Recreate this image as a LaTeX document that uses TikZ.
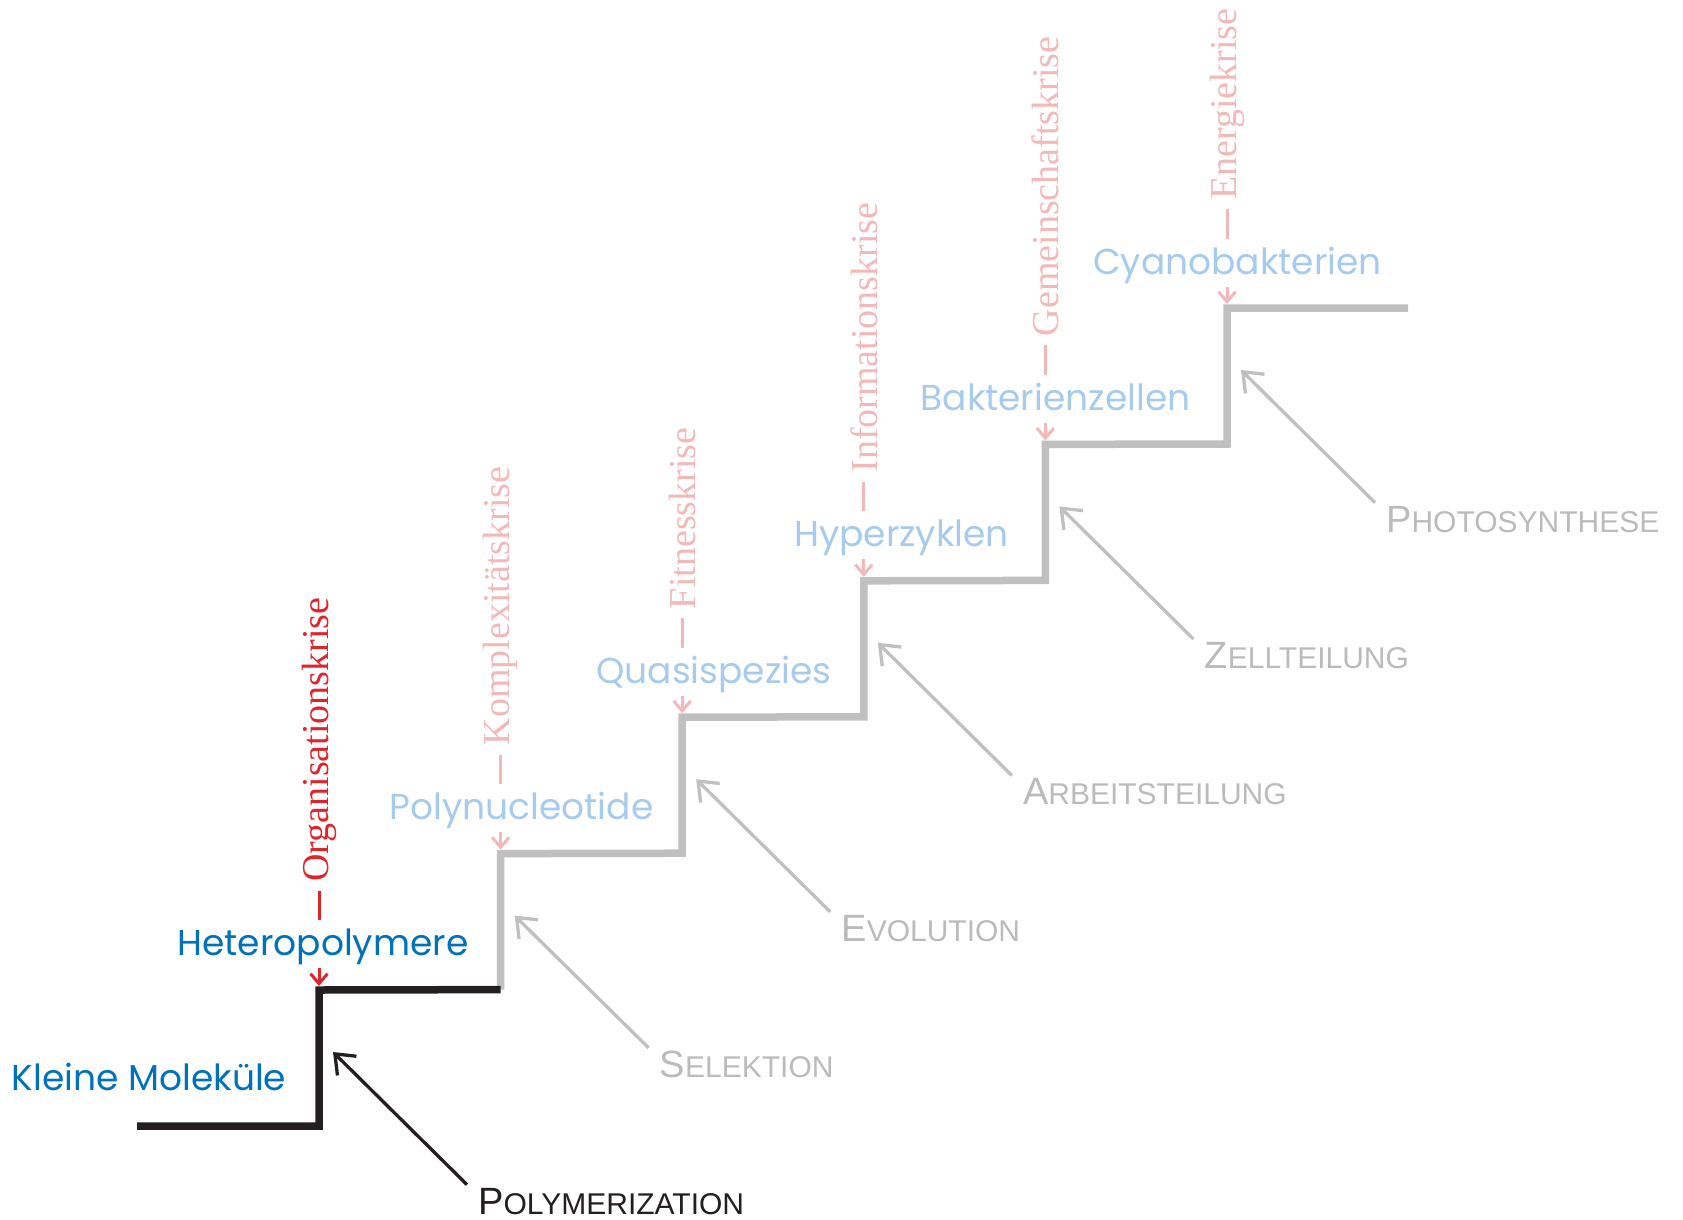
\documentclass[tikz,border=0pt]{standalone}
\usepackage{fontspec}
\setmainfont{Liberation Serif}
\newfontfamily\stufenfont{Poppins}
\newfontfamily\prozessfont{Liberation Sans}
\usepackage{xcolor}
\usetikzlibrary{arrows.meta,positioning,calc}

\definecolor{dunkelblau}{RGB}{0,114,188}
\definecolor{hellblau}{RGB}{166,203,238}
\definecolor{krisenrot}{RGB}{224,36,43}
\definecolor{hellrot}{RGB}{243,184,184}
\definecolor{stufengrau}{RGB}{192,192,192}
\definecolor{textgrau}{RGB}{187,187,187}
\definecolor{dunkelgrau}{RGB}{35,31,32}

\newcommand\kapit[2]{{\fontsize{38}{40}\selectfont #1}{\fontsize{30}{32}\selectfont #2}}

\tikzset{
	stufe/.style={line width=7.5pt, miter limit=4},
	stadium/.style={anchor=base, inner xsep=2pt, inner ysep=3pt, text height=32pt, text depth=10pt, font=\stufenfont\fontsize{36}{40}\selectfont, text=hellblau},
	krise/.style={rotate=90, anchor=west, inner xsep=9pt, inner ysep=0pt, font=\fontsize{38}{40}\selectfont, text=hellrot},
	kriselinie/.style={draw=hellrot, line width=3pt},
	kspitze/.style={-{Straight Barb[length=10pt,width=17pt]}, shorten >=4pt},
	prozess/.style={anchor=base west, inner xsep=11pt, inner ysep=3pt, font=\prozessfont, text=textgrau},
	prozesspfeil/.style={draw=stufengrau, line width=3.3pt, -{Straight Barb[length=17pt,width=27pt]}}
}

\begin{document}
\begin{tikzpicture}[x=1pt,y=1pt,yscale=-1,xscale=1]
	\useasboundingbox (0,0) rectangle (1683,1220);

	%Shape: Stairs, corner points [u = riser bottom, o = riser top, p = arrow tip]
	\foreach \i in {0,...,5} {
		\coordinate (u\i) at (319+181.6*\i,1126-136.4*\i);
		\coordinate (o\i) at (319+181.6*\i,990-136.4*\i);
		\coordinate (p\i) at (333+181.6*\i,1052-136.4*\i);
	}
	\coordinate (start) at (137,1126);
	\coordinate (ende) at (1408,308);

	%Straight Lines [grey stairs]
	\draw [stufe, draw=stufengrau] (u1) -- (o1) -- (u2) -- (o2) -- (u3) -- (o3) -- (u4) -- (o4) -- (u5) -- (o5) -- (ende) ;
	%Straight Lines [black stair]
	\draw [stufe, draw=dunkelgrau] (start) -- (u0) -- (o0) -- (u1) ;

	% Text Node
	\node [stadium, text=dunkelblau] (kleine) at (149,1090) {Kleine Moleküle};
	% Text Node
	\node [stadium, text=dunkelblau] (hetero) at (323,955) {Heteropolymere};
	% Text Node
	\node [stadium] (polynuc) at (521.5,819) {Polynucleotide};
	% Text Node
	\node [stadium] (quasi) at (714,683) {Quasispezies};
	% Text Node
	\node [stadium] (hyper) at (901.5,546) {Hyperzyklen};
	% Text Node
	\node [stadium] (bakt) at (1055.5,410) {Bakterienzellen};
	% Text Node
	\node [stadium] (cyano) at (1237.5,274) {Cyanobakterien};

	% Text Node
	\node [krise, text=krisenrot] (organ) at ($(o0)+(0,-99)$) {Organisationskrise};
	% Text Node
	\node [krise] (komplex) at ($(o1)+(0,-99)$) {Komplexitätskrise};
	% Text Node
	\node [krise] (fitness) at ($(o2)+(0,-99)$) {Fitnesskrise};
	% Text Node
	\node [krise] (inform) at ($(o3)+(0,-99)$) {Informationskrise};
	% Text Node
	\node [krise] (gemein) at ($(o4)+(0,-99)$) {Gemeinschaftskrise};
	% Text Node
	\node [krise] (energie) at ($(o5)+(0,-99)$) {Energiekrise};

	%Straight Lines [crisis arrows]
	\draw [kriselinie, draw=krisenrot] (organ.west) -- (organ.west |- hetero.north) ;
	\draw [kriselinie, draw=krisenrot, kspitze] (organ.west |- hetero.south) -- (o0) ;
	\draw [kriselinie] (komplex.west) -- (komplex.west |- polynuc.north) ;
	\draw [kriselinie, kspitze] (komplex.west |- polynuc.south) -- (o1) ;
	\draw [kriselinie] (fitness.west) -- (fitness.west |- quasi.north) ;
	\draw [kriselinie, kspitze] (fitness.west |- quasi.south) -- (o2) ;
	\draw [kriselinie] (inform.west) -- (inform.west |- hyper.north) ;
	\draw [kriselinie, kspitze] (inform.west |- hyper.south) -- (o3) ;
	\draw [kriselinie] (gemein.west) -- (gemein.west |- bakt.north) ;
	\draw [kriselinie, kspitze] (gemein.west |- bakt.south) -- (o4) ;
	\draw [kriselinie] (energie.west) -- (energie.west |- cyano.north) ;
	\draw [kriselinie, kspitze] (energie.west |- cyano.south) -- (o5) ;

	% Text Node
	\node [prozess, text=dunkelgrau] (polym) at (467,1214) {\kapit{P}{OLYMERIZATION}};
	% Text Node
	\node [prozess] (selek) at (648.6,1077.6) {\kapit{S}{ELEKTION}};
	% Text Node
	\node [prozess] (evol) at (830.2,941.2) {\kapit{E}{VOLUTION}};
	% Text Node
	\node [prozess] (arbeit) at (1011.8,804.8) {\kapit{A}{RBEITSTEILUNG}};
	% Text Node
	\node [prozess] (zell) at (1193.4,668.4) {\kapit{Z}{ELLTEILUNG}};
	% Text Node
	\node [prozess] (photo) at (1375,532) {\kapit{P}{HOTOSYNTHESE}};

	%Straight Lines [process arrows]
	\draw [prozesspfeil, draw=dunkelgrau] (polym.north west) -- (p0) ;
	\draw [prozesspfeil] (selek.north west) -- (p1) ;
	\draw [prozesspfeil] (evol.north west) -- (p2) ;
	\draw [prozesspfeil] (arbeit.north west) -- (p3) ;
	\draw [prozesspfeil] (zell.north west) -- (p4) ;
	\draw [prozesspfeil] (photo.north west) -- (p5) ;
\end{tikzpicture}
\end{document}
